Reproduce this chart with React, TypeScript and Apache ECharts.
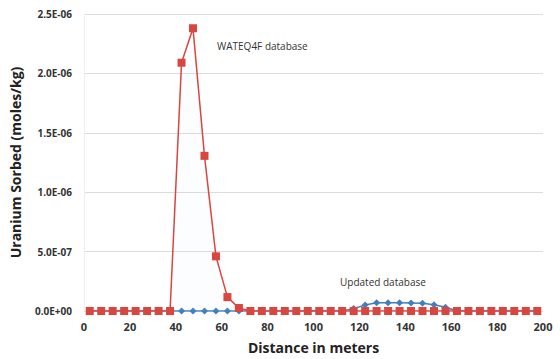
import React, { useEffect, useRef } from "react";
import * as echarts from "echarts";

// Distance (m) at cell centres
const distances: number[] = [
  2.5, 7.5, 12.5, 17.5, 22.5, 27.5, 32.5, 37.5, 42.5, 47.5,
  52.5, 57.5, 62.5, 67.5, 72.5, 77.5, 82.5, 87.5, 92.5, 97.5,
  102.5, 107.5, 112.5, 117.5, 122.5, 127.5, 132.5, 137.5, 142.5, 147.5,
  152.5, 157.5, 162.5, 167.5, 172.5, 177.5, 182.5, 187.5, 192.5, 197.5,
];

// Sorbed uranium, updated thermodynamic database
const updatedSorbed: number[] = [
  0, 0, 0, 0, 0, 0, 0, 0, 0, 0,
  0, 0, 0, 0, 0, 0, 0, 0, 0, 0,
  0, 0, 0, 2.0e-8, 5.0e-8, 7.0e-8, 7.0e-8, 7.0e-8, 6.8e-8, 6.5e-8,
  5.3e-8, 3.2e-8, 0, 0, 0, 0, 0, 0, 0, 0,
];

// Sorbed uranium, WATEQ4F database
const wateqSorbed: number[] = [
  0, 0, 0, 0, 0, 0, 0, 0, 2.09e-6, 2.38e-6,
  1.306e-6, 4.6e-7, 1.17e-7, 2.5e-8, 0, 0, 0, 0, 0, 0,
  0, 0, 0, 0, 0, 0, 0, 0, 0, 0,
  0, 0, 0, 0, 0, 0, 0, 0, 0, 0,
];

const FONT = "'Open Sans', 'Liberation Sans', sans-serif";

function sciLabel(v: number): string {
  const [mant, exp] = v.toExponential(1).split("e");
  const e = parseInt(exp, 10);
  const sign = e < 0 ? "-" : "+";
  const digits = String(Math.abs(e)).padStart(2, "0");
  return `${mant}E${sign}${digits}`;
}

export default function App() {
  const ref = useRef<HTMLDivElement>(null);

  useEffect(() => {
    if (!ref.current) return;
    const chart = echarts.init(ref.current, undefined, { renderer: "svg" });
    chart.setOption({
      animation: false,
      backgroundColor: "#ffffff",
      grid: { left: 82, right: 17, top: 14, bottom: 47, containLabel: false },
      xAxis: {
        type: "value",
        min: 0,
        max: 200,
        interval: 20,
        name: "Distance in meters",
        nameLocation: "middle",
        nameGap: 29,
        nameTextStyle: { fontFamily: FONT, fontSize: 14, fontWeight: "bold", color: "#222" },
        axisLine: { show: false },
        axisTick: { show: false },
        splitLine: { show: false },
        axisLabel: { fontFamily: FONT, fontSize: 11, fontWeight: "bold", color: "#333", margin: 10 },
      },
      yAxis: {
        type: "value",
        min: 0,
        max: 2.5e-6,
        interval: 5e-7,
        name: "Uranium Sorbed (moles/kg)",
        nameLocation: "middle",
        nameGap: 62,
        nameTextStyle: { fontFamily: FONT, fontSize: 14, fontWeight: "bold", color: "#222" },
        axisLine: { show: true, lineStyle: { color: "#eeeeee", width: 1 } },
        axisTick: { show: false },
        splitLine: { show: true, lineStyle: { color: "#dcdcdc", width: 1 } },
        axisLabel: {
          fontFamily: FONT,
          fontSize: 10,
          fontWeight: "bold",
          color: "#333",
          margin: 12,
          formatter: (v: number) => sciLabel(v),
        },
      },
      series: [
        {
          name: "Updated database",
          type: "line",
          data: distances.map((d, i) => [d, updatedSorbed[i]]),
          symbol: "diamond",
          symbolSize: 7,
          lineStyle: { color: "#3f7fc0", width: 1.5 },
          itemStyle: { color: "#3f7fc0" },
          z: 2,
        },
        {
          name: "WATEQ4F database",
          type: "line",
          data: distances.map((d, i) => [d, wateqSorbed[i]]),
          symbol: "rect",
          symbolSize: 8,
          lineStyle: { color: "#d9453f", width: 1.5 },
          itemStyle: { color: "#d9453f" },
          areaStyle: { color: "rgba(200,215,235,0.07)" },
          z: 3,
        },
      ],
      graphic: [
        {
          type: "text",
          left: 217,
          top: 41,
          style: { text: "WATEQ4F database", fontFamily: FONT, fontSize: 10, fill: "#333" },
        },
        {
          type: "text",
          left: 340,
          top: 277,
          style: { text: "Updated database", fontFamily: FONT, fontSize: 10, fill: "#333" },
        },
      ],
    });
    return () => chart.dispose();
  }, []);

  return <div ref={ref} style={{ width: 560, height: 359, position: "absolute", left: 0, top: 0 }} />;
}
